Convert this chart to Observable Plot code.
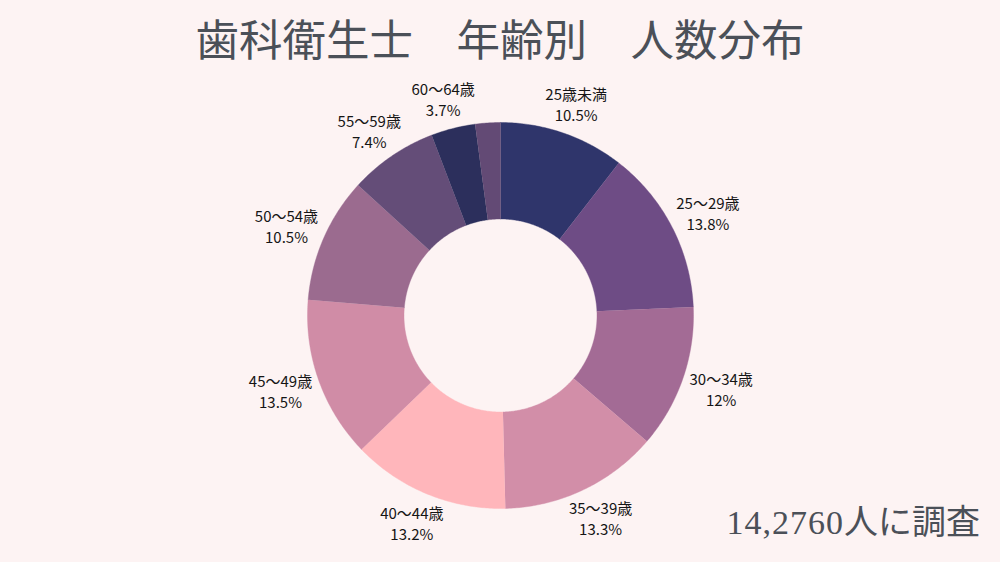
<!DOCTYPE html>
<html lang="ja">
<head>
<meta charset="utf-8">
<script src="https://cdn.jsdelivr.net/npm/d3@7"></script>
<script src="https://cdn.jsdelivr.net/npm/@observablehq/plot@0.6"></script>
<style>
  html, body { margin: 0; padding: 0; background: #fdf3f3; }
  #wrap { position: relative; width: 1000px; height: 562px; overflow: hidden; background: #fdf3f3; }
  #title { position: absolute; left: 0; top: 10px; width: 1000px; text-align: center;
    font-family: "Noto Sans CJK JP", sans-serif; font-size: 43.5px; line-height: 56px; color: #4b5058; }
  #chart { position: absolute; left: 0; top: 0; }
  #caption { position: absolute; right: 20px; top: 500px; font-family: "Liberation Serif", "Noto Sans CJK JP", serif;
    font-size: 34px; line-height: 46px; color: #4b5058; }
  #caption .num { letter-spacing: 1px; }
</style>
</head>
<body>
<div id="wrap">
  <div id="chart"></div>
  <div id="title">歯科衛生士　年齢別　人数分布</div>
  <div id="caption"><span class="num">14,2760</span>人に調査</div>
</div>
<script>
const categories = ["25歳未満", "25〜29歳", "30〜34歳", "35〜39歳", "40〜44歳", "45〜49歳", "50〜54歳", "55〜59歳", "60〜64歳", "65歳以上"];
const shares = [10.5, 13.8, 12, 13.3, 13.2, 13.5, 10.5, 7.4, 3.7, 2.1];
const showLabel = [true, true, true, true, true, true, true, true, true, false];
const colors = ["#2f356b", "#6e4c85", "#a36b95", "#d28ea8", "#ffb6bb", "#d08ca6", "#9b6b8f", "#644d78", "#2c2f5c", "#634a75"];

const W = 1000, H = 562, cx = 500, cy = 315, R = 193;
const inner = 0.5, labelRx = 1.21, labelRy = 1.16;

const table = categories.map((c, i) => ({ age: c, share: shares[i], show: showLabel[i] }));
const arcs = d3.pie().sort(null).value(d => d.share)(table);

// polygon outline points for each donut slice (unit radius space)
const pts = [];
for (const a of arcs) {
  const n = Math.max(4, Math.ceil((a.endAngle - a.startAngle) / 0.01));
  for (let k = 0; k <= n; k++) {
    const t = a.startAngle + (a.endAngle - a.startAngle) * k / n;
    pts.push({ age: a.data.age, x: Math.sin(t), y: Math.cos(t) });
  }
  for (let k = n; k >= 0; k--) {
    const t = a.startAngle + (a.endAngle - a.startAngle) * k / n;
    pts.push({ age: a.data.age, x: inner * Math.sin(t), y: inner * Math.cos(t) });
  }
}
const labels = arcs.filter(a => a.data.show).map(a => {
  const m = (a.startAngle + a.endAngle) / 2;
  return { age: a.data.age, text: `${a.data.age}\n${a.data.share}%`, x: labelRx * Math.sin(m), y: labelRy * Math.cos(m) };
});

const chart = Plot.plot({
  width: W, height: H,
  margin: 0,
  style: { background: "transparent", fontFamily: "'Noto Sans CJK JP', sans-serif" },
  x: { domain: [-cx / R, (W - cx) / R], range: [0, W], axis: null },
  y: { domain: [-(H - cy) / R, cy / R], range: [H, 0], axis: null },
  color: { type: "ordinal", domain: categories, range: colors },
  marks: [
    Plot.line(pts, { x: "x", y: "y", z: "age", fill: "age", stroke: "age", strokeWidth: 0.4, curve: "linear" }),
    Plot.text(labels, { x: "x", y: "y", text: "text", fontSize: 15, fontWeight: 400, lineHeight: 1.4, fill: "#151515", textAnchor: "middle" })
  ]
});
document.getElementById("chart").appendChild(chart);
</script>
</body>
</html>
